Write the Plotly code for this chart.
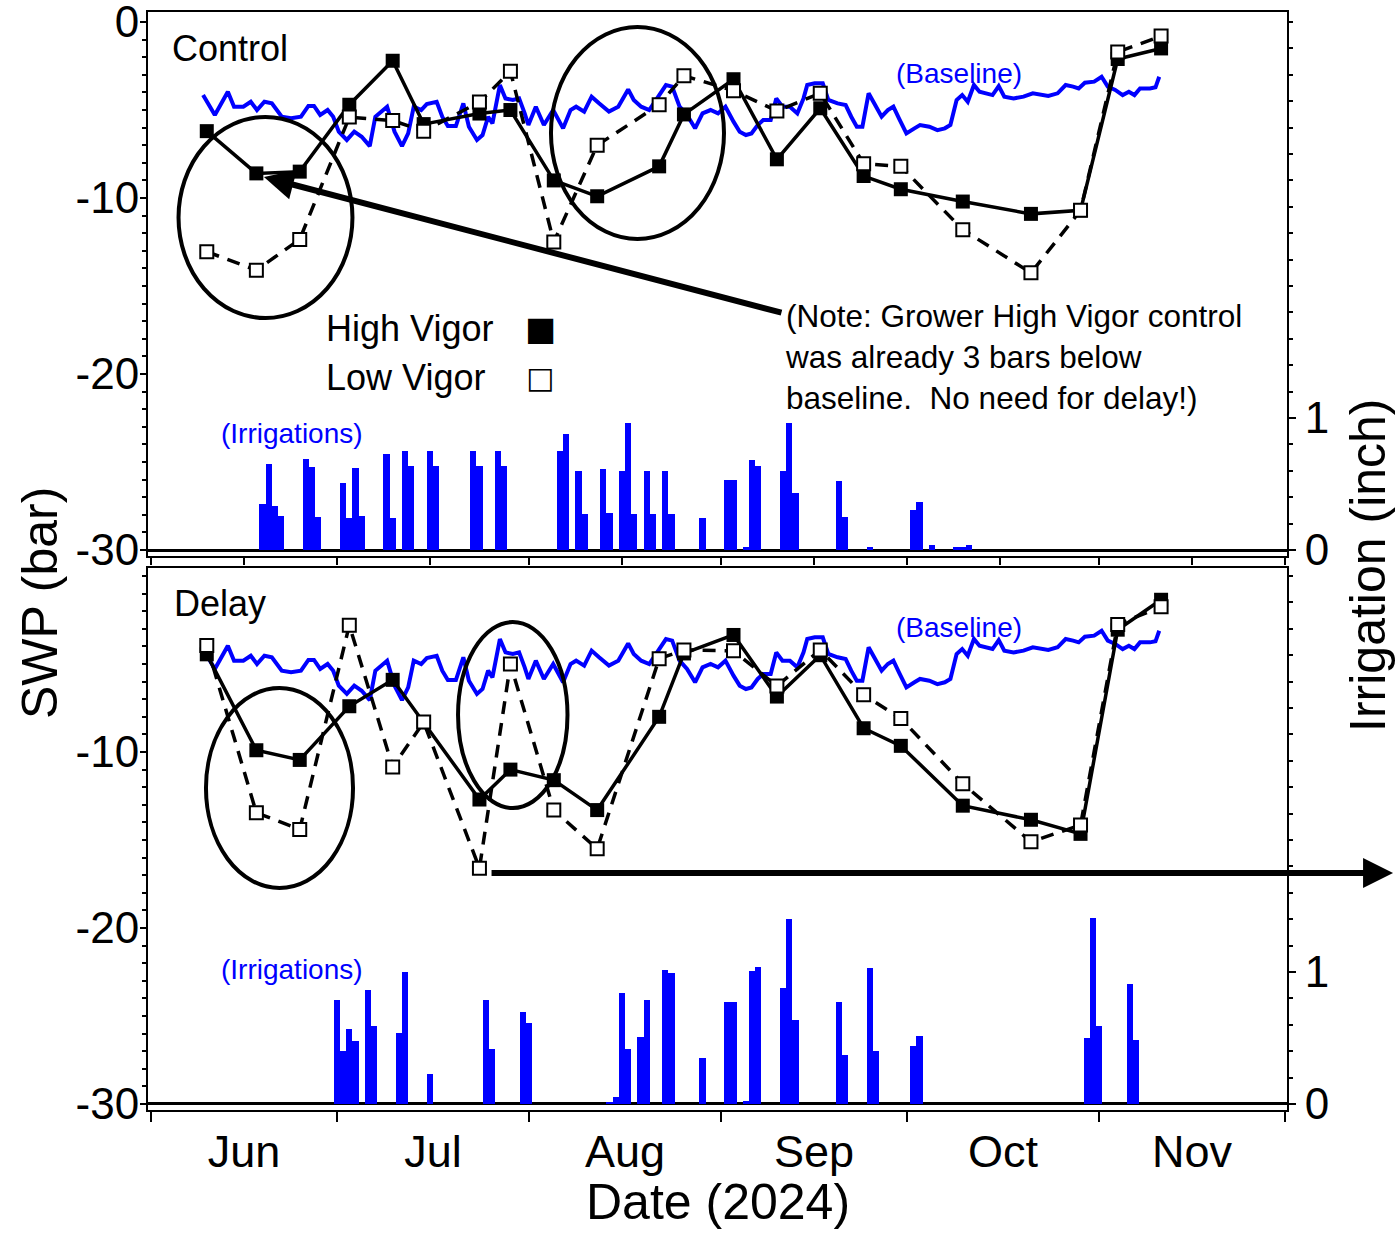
import pandas as pd
import plotly.graph_objects as go

# ---------------- data ----------------
swp_dates = ["2024-06-10", "2024-06-18", "2024-06-25", "2024-07-03", "2024-07-10", "2024-07-15",
             "2024-07-24", "2024-07-29", "2024-08-05", "2024-08-12", "2024-08-22", "2024-08-26",
             "2024-09-03", "2024-09-10", "2024-09-17", "2024-09-24", "2024-09-30", "2024-10-10",
             "2024-10-21", "2024-10-29", "2024-11-04", "2024-11-11"]

control_high = [-6.2, -8.6, -8.5, -4.7, -2.2, -5.8, -5.2, -5.0, -9.0, -9.9, -8.2, -5.25,
                -3.25, -7.8, -4.9, -8.75, -9.5, -10.2, -10.9, -10.7, -2.1, -1.5]
control_low = [-13.05, -14.1, -12.35, -5.4, -5.6, -6.2, -4.55, -2.8, -12.5, -7.0, -4.7, -3.05,
               -3.9, -5.05, -4.05, -8.05, -8.2, -11.8, -14.25, -10.7, -1.7, -0.8]

delay_high = [-4.45, -9.9, -10.45, -7.4, -5.9, -8.3, -12.7, -11.0, -11.6, -13.3, -8.0, -4.4,
              -3.35, -6.85, -4.5, -8.65, -9.65, -13.05, -13.85, -14.65, -3.05, -1.35]
delay_low = [-3.95, -13.45, -14.4, -2.8, -10.85, -8.3, -16.6, -5.0, -13.3, -15.5, -4.7, -4.2,
             -4.25, -6.25, -4.2, -6.75, -8.1, -11.8, -15.1, -14.15, -2.75, -1.75]

# baseline SWP, positions given in days after 2024-06-01
baseline_day = [8.4, 10.3, 12.4, 13.4, 14.9, 16.1, 17.1, 18.3, 19.5, 21.1, 22.6, 24.2, 25.4, 26.3,
                27.3, 28.5, 29.4, 30.3, 31.6, 32.8, 34.0, 35.3, 36.2, 38.1, 39.3, 40.5, 41.5, 42.4,
                43.6, 44.5, 46.1, 47.0, 47.9, 49.2, 50.4, 51.3, 52.6, 53.5, 54.4, 55.1, 56.3, 57.2,
                58.4, 59.4, 60.3, 60.9, 62.1, 63.4, 64.9, 66.5, 67.7, 68.6, 69.9, 71.1, 72.3, 73.9,
                75.4, 77.0, 77.9, 79.1, 80.4, 81.9, 83.1, 84.1, 85.3, 86.5, 87.8, 89.0, 90.3, 91.5,
                92.7, 94.0, 95.0, 96.0, 96.9, 97.9, 98.8, 100.0, 100.9, 101.9, 103.1, 104.3, 105.3,
                105.9, 107.1, 108.4, 109.3, 110.8, 112.1, 113.0, 113.9, 114.8, 115.8, 116.7, 117.9,
                118.9, 119.8, 120.7, 121.9, 123.2, 124.1, 125.6, 126.9, 128.1, 129.0, 130.0, 130.9,
                131.8, 132.8, 133.7, 134.6, 135.8, 136.8, 137.7, 139.2, 140.8, 142.3, 143.6, 144.8,
                146.3, 147.6, 148.8, 149.7, 150.7, 152.2, 153.4, 154.4, 155.6, 156.8, 157.8, 158.7,
                159.6, 161.2, 162.1, 162.7]
baseline_swp = [-4.15, -5.28, -3.96, -4.81, -4.81, -4.53, -5.0, -4.53, -4.62, -5.38, -5.47, -5.38,
                -4.77, -4.77, -5.28, -5.0, -5.38, -6.23, -6.7, -6.23, -6.52, -7.05, -5.38, -4.81,
                -6.23, -7.05, -6.33, -4.81, -5.0, -4.66, -4.53, -5.38, -5.91, -5.91, -4.62, -5.95,
                -6.7, -6.42, -5.38, -5.76, -3.58, -4.34, -4.43, -4.34, -5.19, -5.85, -4.81, -5.85,
                -5.0, -6.04, -5.0, -4.81, -5.09, -4.24, -4.62, -5.09, -4.81, -3.83, -4.43, -4.81,
                -5.0, -4.24, -3.58, -3.67, -4.81, -5.28, -6.04, -5.19, -5.0, -5.19, -4.81, -5.66,
                -6.23, -6.42, -6.33, -5.85, -5.57, -5.57, -4.34, -4.81, -4.81, -5.19, -4.34, -3.58,
                -3.48, -3.48, -4.43, -4.62, -4.72, -5.38, -5.95, -5.95, -4.05, -4.62, -5.38, -5.0,
                -4.81, -5.47, -6.33, -6.04, -5.85, -5.95, -6.14, -6.04, -5.85, -4.43, -4.15, -4.53,
                -3.58, -3.96, -4.02, -4.15, -3.64, -4.24, -4.34, -4.24, -4.05, -4.15, -4.2, -4.05,
                -3.58, -3.67, -3.77, -3.45, -3.39, -3.11, -3.67, -3.86, -4.15, -3.96, -4.15, -3.77,
                -3.77, -3.71, -3.11]

control_irr_dates = ["2024-06-19", "2024-06-20", "2024-06-21", "2024-06-22", "2024-06-26", "2024-06-27",
                     "2024-06-28", "2024-07-02", "2024-07-03", "2024-07-04", "2024-07-05", "2024-07-09",
                     "2024-07-10", "2024-07-12", "2024-07-13", "2024-07-16", "2024-07-17", "2024-07-23",
                     "2024-07-24", "2024-07-27", "2024-07-28", "2024-08-06", "2024-08-07", "2024-08-09",
                     "2024-08-10", "2024-08-13", "2024-08-14", "2024-08-16", "2024-08-17", "2024-08-18",
                     "2024-08-20", "2024-08-21", "2024-08-23", "2024-08-24", "2024-08-29", "2024-09-02",
                     "2024-09-03", "2024-09-05", "2024-09-06", "2024-09-07", "2024-09-11", "2024-09-12",
                     "2024-09-13", "2024-09-20", "2024-09-21", "2024-09-25", "2024-10-02", "2024-10-03",
                     "2024-10-05", "2024-10-09", "2024-10-10", "2024-10-11"]
control_irr = [0.35, 0.65, 0.33, 0.26, 0.69, 0.63, 0.25, 0.51, 0.24, 0.62, 0.26, 0.73, 0.24,
               0.75, 0.64, 0.75, 0.64, 0.75, 0.64, 0.75, 0.64, 0.75, 0.88, 0.60, 0.27, 0.61,
               0.28, 0.60, 0.96, 0.27, 0.60, 0.27, 0.60, 0.27, 0.24, 0.53, 0.53, 0.02, 0.68,
               0.64, 0.60, 0.96, 0.43, 0.52, 0.25, 0.02, 0.30, 0.36, 0.04, 0.025, 0.025, 0.04]

delay_irr_dates = ["2024-07-01", "2024-07-02", "2024-07-03", "2024-07-04", "2024-07-06", "2024-07-07",
                   "2024-07-11", "2024-07-12", "2024-07-16", "2024-07-25", "2024-07-26", "2024-07-31",
                   "2024-08-01", "2024-08-14", "2024-08-15", "2024-08-16", "2024-08-17", "2024-08-19",
                   "2024-08-20", "2024-08-23", "2024-08-24", "2024-08-29", "2024-09-02", "2024-09-03",
                   "2024-09-05", "2024-09-06", "2024-09-07", "2024-09-11", "2024-09-12", "2024-09-13",
                   "2024-09-20", "2024-09-21", "2024-09-25", "2024-09-26", "2024-10-02", "2024-10-03",
                   "2024-10-30", "2024-10-31", "2024-11-01", "2024-11-06", "2024-11-07"]
delay_irr = [0.79, 0.40, 0.57, 0.48, 0.86, 0.59, 0.54, 1.00, 0.23, 0.79, 0.42, 0.70, 0.61,
             0.015, 0.05, 0.84, 0.42, 0.51, 0.79, 1.015, 0.995, 0.35, 0.77, 0.775, 0.02, 1.01,
             1.035, 0.88, 1.40, 0.64, 0.77, 0.37, 1.03, 0.40, 0.44, 0.515, 0.50, 1.41, 0.59,
             0.91, 0.485]

month_ticks_top = ["2024-06-01", "2024-06-16", "2024-07-01", "2024-07-16", "2024-08-01", "2024-08-16",
                   "2024-09-01", "2024-09-16", "2024-10-01", "2024-10-16", "2024-11-01", "2024-11-16",
                   "2024-12-01"]
swp_top_ticks = [-30, -20, -10, 0]
swp_bottom_ticks = [-30, -20, -10]
irr_ticks = [0, 1]

# ---------------- figure ----------------
FONT = "Liberation Sans, Arial, sans-serif"
BLUE = "#0000ff"
baseline_dates = pd.Timestamp("2024-06-01") + pd.to_timedelta(baseline_day, unit="D")
DAY_MS = 86400000

fig = go.Figure()


def add_panel(xa, ya, ya2, irr_dates, irr, high, low):
    fig.add_trace(go.Bar(x=irr_dates, y=irr, xaxis=xa, yaxis=ya2, width=DAY_MS,
                         marker=dict(color=BLUE, line=dict(width=0)), showlegend=False))
    fig.add_trace(go.Scatter(x=baseline_dates, y=baseline_swp, xaxis=xa, yaxis=ya, mode="lines",
                             line=dict(color=BLUE, width=4), showlegend=False))
    fig.add_trace(go.Scatter(x=swp_dates, y=high, xaxis=xa, yaxis=ya, mode="lines+markers",
                             line=dict(color="black", width=3.5),
                             marker=dict(symbol="square", size=14, color="black"),
                             showlegend=False))
    fig.add_trace(go.Scatter(x=swp_dates, y=low, xaxis=xa, yaxis=ya, mode="lines+markers",
                             line=dict(color="black", width=3.5, dash="13px,9px"),
                             marker=dict(symbol="square", size=13, color="white",
                                         line=dict(color="black", width=2)),
                             showlegend=False))


add_panel("x", "y", "y2", control_irr_dates, control_irr, control_high, control_low)
add_panel("x2", "y3", "y4", delay_irr_dates, delay_irr, delay_high, delay_low)

xrange = ["2024-05-31 12:20", "2024-12-01 07:40"]
axis_common = dict(showline=True, linecolor="black", linewidth=2, showgrid=False, zeroline=False,
                   tickcolor="black", tickwidth=2, automargin=False)
yfont = dict(family=FONT, size=44, color="black")
minor_swp = dict(dtick=1, tick0=0, ticks="outside", ticklen=4, tickcolor="black", tickwidth=1.5)
minor_irr = dict(dtick=0.2, tick0=0, ticks="outside", ticklen=4, tickcolor="black", tickwidth=1.5)

fig.update_layout(
    width=1395, height=1233,
    margin=dict(l=148, r=108, t=12, b=123, autoexpand=False),
    paper_bgcolor="white", plot_bgcolor="white",
    bargap=0,
    showlegend=False,
    xaxis=dict(domain=[0, 1], anchor="y", type="date", range=xrange, mirror=True,
               ticks="outside", ticklen=7, tickmode="array", tickvals=month_ticks_top,
               showticklabels=False, **axis_common),
    yaxis=dict(domain=[0.50455, 1], anchor="x", range=[-30.34, 0.57], mirror=True,
               tickmode="array", tickvals=swp_top_ticks, ticktext=[str(v) for v in swp_top_ticks],
               ticks="outside", ticklen=6, tickfont=yfont, ticklabelstandoff=-8,
               ticklabeloverflow="allow", minor=minor_swp, **axis_common),
    yaxis2=dict(overlaying="y", side="right", anchor="x", range=[-0.0455, 4.076],
                tickmode="array", tickvals=irr_ticks, ticks="outside", ticklen=7, tickfont=yfont,
                ticklabeloverflow="allow", minor=minor_irr, automargin=False,
                showline=True, linecolor="black", linewidth=2, showgrid=False,
                zeroline=True, zerolinecolor="black", zerolinewidth=3,
                tickcolor="black", tickwidth=2),
    xaxis2=dict(domain=[0, 1], anchor="y3", type="date", range=xrange, mirror=True,
                ticks="outside", ticklen=10, dtick="M1", tick0="2024-06-01",
                ticklabelmode="period", tickformat="%b", ticklabelstandoff=-9,
                tickfont=dict(family=FONT, size=45, color="black"), **axis_common),
    yaxis3=dict(domain=[0, 0.49362], anchor="x2", range=[-30.34, 0.4545], mirror=True,
                tickmode="array", tickvals=swp_bottom_ticks,
                ticktext=[str(v) for v in swp_bottom_ticks],
                ticks="outside", ticklen=6, tickfont=yfont, ticklabelstandoff=-8,
                ticklabeloverflow="allow", minor=minor_swp, **axis_common),
    yaxis4=dict(overlaying="y3", side="right", anchor="x2", range=[-0.0455, 4.06],
                tickmode="array", tickvals=irr_ticks, ticks="outside", ticklen=7, tickfont=yfont,
                ticklabeloverflow="allow", minor=minor_irr, automargin=False,
                showline=True, linecolor="black", linewidth=2, showgrid=False,
                zeroline=True, zerolinecolor="black", zerolinewidth=3,
                tickcolor="black", tickwidth=2),
    font=dict(family=FONT, color="black"),
)


def txt(text, x, y, size, color="black", xanchor="left", yanchor="middle", angle=0, align="left",
        family=FONT):
    fig.add_annotation(text=text, x=x, y=y, xref="paper", yref="paper", showarrow=False,
                       xanchor=xanchor, yanchor=yanchor, textangle=angle, align=align,
                       font=dict(family=family, size=size, color=color))


txt("Control", 0.0193, 0.9672, 36)
txt("Delay", 0.0211, 0.4617, 36)
txt("(Baseline)", 0.7116, 0.9444, 28, BLUE, xanchor="center")
txt("(Baseline)", 0.7116, 0.4390, 28, BLUE, xanchor="center")
txt("(Irrigations)", 0.126, 0.6157, 28, BLUE, xanchor="center")
txt("(Irrigations)", 0.126, 0.1284, 28, BLUE, xanchor="center")
txt("High Vigor", 0.1545, 0.7122, 36)
txt("Low Vigor", 0.1545, 0.6667, 36)
txt("■", 0.3442, 0.7122, 33, xanchor="center", family="DejaVu Sans")
txt("□", 0.3442, 0.6667, 30, xanchor="center", family="DejaVu Sans")
txt("(Note: Grower High Vigor control<br>was already 3 bars below<br>baseline.  No need for delay!)",
    0.5575, 0.7413, 31.5, yanchor="top")
txt("SWP (bar)", -0.0948, 0.4617, 50, xanchor="center", angle=-90)
txt("Irrigation (inch)", 1.0711, 0.4964, 50, xanchor="center", angle=-90)
txt("Date (2024)", 0.5004, -0.0838, 50, xanchor="center")

# arrows
fig.add_annotation(text="", x=0.1018, y=0.8497, xref="paper", yref="paper", showarrow=True,
                   ax=519, ay=136, axref="pixel", ayref="pixel",
                   arrowhead=2, arrowsize=1, arrowwidth=6, arrowcolor="black", standoff=0)
fig.add_annotation(text="", x=1.0931, y=0.2158, xref="paper", yref="paper", showarrow=True,
                   ax=-903, ay=0, axref="pixel", ayref="pixel",
                   arrowhead=2, arrowsize=1, arrowwidth=6, arrowcolor="black", standoff=0)

# ellipses
ellipses = [(0.0268, 0.7213, 0.1795, 0.9044), (0.3538, 0.7933, 0.5057, 0.9863),
            (0.0509, 0.2022, 0.1800, 0.3843), (0.2722, 0.2750, 0.3683, 0.4444)]
for x0, y0, x1, y1 in ellipses:
    fig.add_shape(type="circle", xref="paper", yref="paper", x0=x0, y0=y0, x1=x1, y1=y1,
                  line=dict(color="black", width=4))

fig.write_html("out.html", config={"displayModeBar": False},
               post_script="document.body.style.margin='0px';")
